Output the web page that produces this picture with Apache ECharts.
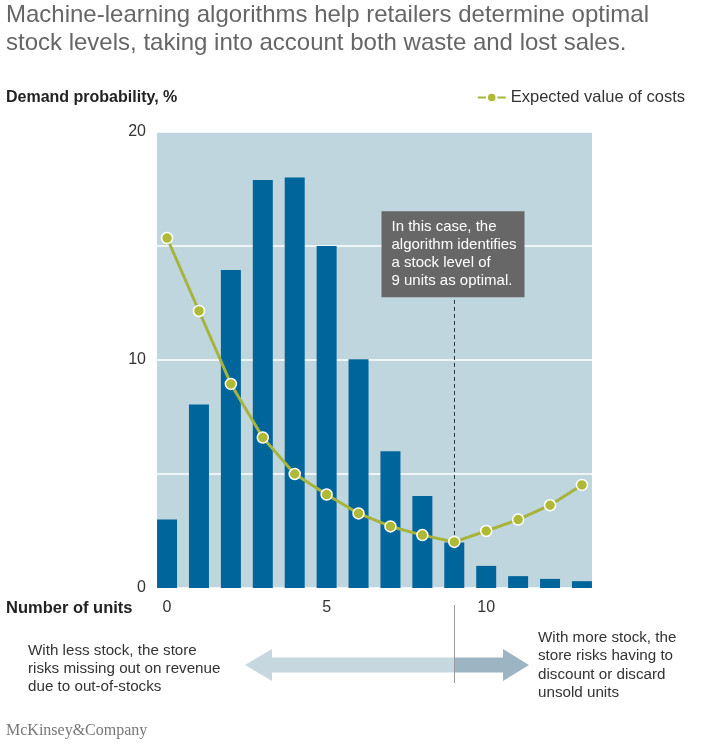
<!DOCTYPE html>
<html>
<head>
<meta charset="utf-8">
<script src="https://cdn.jsdelivr.net/npm/echarts@6/dist/echarts.min.js"></script>
<style>
html, body { margin: 0; padding: 0; background: #fff; }
#box { width: 708px; height: 750px; }
</style>
</head>
<body>
<div id="box"></div>
<script>
var mychart = echarts.init(document.getElementById("box"));

var units = [0, 1, 2, 3, 4, 5, 6, 7, 8, 9, 10, 11, 12, 13];
var demandProb = [3, 8.05, 13.95, 17.9, 18, 15, 10.03, 6, 4.03, 2, 0.97, 0.52, 0.4, 0.3];
var expectedCost = [15.35, 12.15, 8.95, 6.6, 5.0, 4.1, 3.27, 2.7, 2.32, 2.02, 2.5, 3.0, 3.63, 4.52];
var xTickLabels = [0, 5, 10];
var yTickLabels = [0, 10, 20];
var optimalUnits = 9;
var noteTop = 12.75;

var font = 'Helvetica, Arial, "Liberation Sans", sans-serif';

var barData = units.map(function (u, i) { return [u, demandProb[i]]; });
var lineData = units.map(function (u, i) { return [u, expectedCost[i]]; });

var option = {
    animation: false,
    textStyle: { fontFamily: font },
    title: [{
        left: 6,
        top: 1,
        padding: 0,
        text: 'Machine-learning algorithms help retailers determine optimal\nstock levels, taking into account both waste and lost sales.',
        textStyle: { fontSize: 24, fontWeight: 'normal', color: '#666', lineHeight: 28, fontFamily: font }
    }, {
        left: 6,
        top: 90,
        padding: 0,
        text: 'Demand probability, %',
        textStyle: { fontSize: 16, fontWeight: 'bold', color: '#222', fontFamily: font }
    }, {
        left: 6,
        top: 600,
        padding: 0,
        text: 'Number of units',
        textStyle: { fontSize: 16.5, fontWeight: 'bold', color: '#222', fontFamily: font }
    }, {
        left: 28,
        top: 642,
        padding: 0,
        text: 'With less stock, the store\nrisks missing out on revenue\ndue to out-of-stocks',
        textStyle: { fontSize: 15.2, fontWeight: 'normal', color: '#333', lineHeight: 18, fontFamily: font }
    }, {
        left: 538,
        top: 629,
        padding: 0,
        text: 'With more stock, the\nstore risks having to\ndiscount or discard\nunsold units',
        textStyle: { fontSize: 15.2, fontWeight: 'normal', color: '#333', lineHeight: 18.2, fontFamily: font }
    }, {
        left: 6,
        top: 723,
        padding: 0,
        text: 'McKinsey&Company',
        textStyle: { fontSize: 16, fontWeight: 'normal', color: '#777', fontFamily: '"Liberation Serif", "Times New Roman", serif' }
    }],
    legend: {
        right: 23,
        top: 89,
        padding: 0,
        itemWidth: 28,
        itemHeight: 12,
        itemGap: 6,
        textStyle: { fontSize: 16.5, color: '#333', fontFamily: font },
        data: ['Expected value of costs']
    },
    grid: {
        left: 157,
        right: 116,
        top: 132,
        bottom: 162,
        show: true,
        backgroundColor: '#c0d6de',
        borderWidth: 0
    },
    xAxis: {
        type: 'value',
        min: -0.315,
        max: 13.315,
        axisLine: { show: false },
        axisTick: { show: false },
        splitLine: { show: false },
        axisLabel: {
            customValues: xTickLabels,
            margin: 12,
            fontSize: 16,
            color: '#333',
            fontFamily: font
        }
    },
    yAxis: {
        type: 'value',
        min: 0,
        max: 20,
        interval: 5,
        axisLine: { show: false },
        axisTick: { show: false },
        splitLine: { show: true, lineStyle: { color: '#fff', width: 1.5 } },
        axisLabel: {
            margin: 11,
            fontSize: 16,
            color: '#333',
            fontFamily: font,
            verticalAlign: 'middle',
            formatter: function (v) { return yTickLabels.indexOf(v) >= 0 ? String(v) : ''; }
        }
    },
    series: [{
        name: 'Demand probability',
        type: 'bar',
        barWidth: 20,
        itemStyle: { color: '#00659b' },
        z: 2,
        data: barData
    }, {
        name: 'Expected value of costs',
        type: 'line',
        symbol: 'circle',
        symbolSize: 11,
        z: 5,
        lineStyle: { color: '#a7b43c', width: 3 },
        itemStyle: { color: '#b0b935', borderColor: '#fff', borderWidth: 1.5 },
        markLine: {
            silent: true,
            symbol: 'none',
            label: { show: false },
            lineStyle: { color: '#333', type: [4, 3], width: 1 },
            data: [[{ coord: [optimalUnits, expectedCost[optimalUnits]] }, { coord: [optimalUnits, noteTop] }]]
        },
        data: lineData
    }]
};

mychart.setOption(option);

// annotations placed from the axis scale
var px9 = mychart.convertToPixel({ gridIndex: 0 }, [optimalUnits, noteTop]);
var xOpt = Math.round(px9[0]) + 0.5;
var noteBottom = px9[1];
var arrowY = 665;
var lightArrow = '#c6d7df';
var darkArrow = '#9db5c3';

mychart.setOption({
    graphic: [{
        type: 'rect',
        shape: { x: xOpt - 73, y: noteBottom - 86, width: 143, height: 86 },
        style: { fill: '#676767' },
        z: 10
    }, {
        type: 'text',
        x: xOpt - 63,
        y: noteBottom - 79,
        style: {
            text: 'In this case, the\nalgorithm identifies\na stock level of\n9 units as optimal.',
            fill: '#fff',
            font: '15px ' + font,
            lineHeight: 18
        },
        z: 11
    }, {
        type: 'polygon',
        shape: {
            points: [
                [245, arrowY], [272, arrowY - 16], [272, arrowY - 7.5], [xOpt, arrowY - 7.5],
                [xOpt, arrowY + 7.5], [272, arrowY + 7.5], [272, arrowY + 16]
            ]
        },
        style: { fill: lightArrow },
        z: 3
    }, {
        type: 'polygon',
        shape: {
            points: [
                [xOpt, arrowY - 7.5], [503, arrowY - 7.5], [503, arrowY - 16], [529, arrowY],
                [503, arrowY + 16], [503, arrowY + 7.5], [xOpt, arrowY + 7.5]
            ]
        },
        style: { fill: darkArrow },
        z: 3
    }, {
        type: 'line',
        shape: { x1: xOpt, y1: 605, x2: xOpt, y2: 683 },
        style: { stroke: '#9a9a9a', lineWidth: 1 },
        z: 4
    }]
});
</script>
</body>
</html>
